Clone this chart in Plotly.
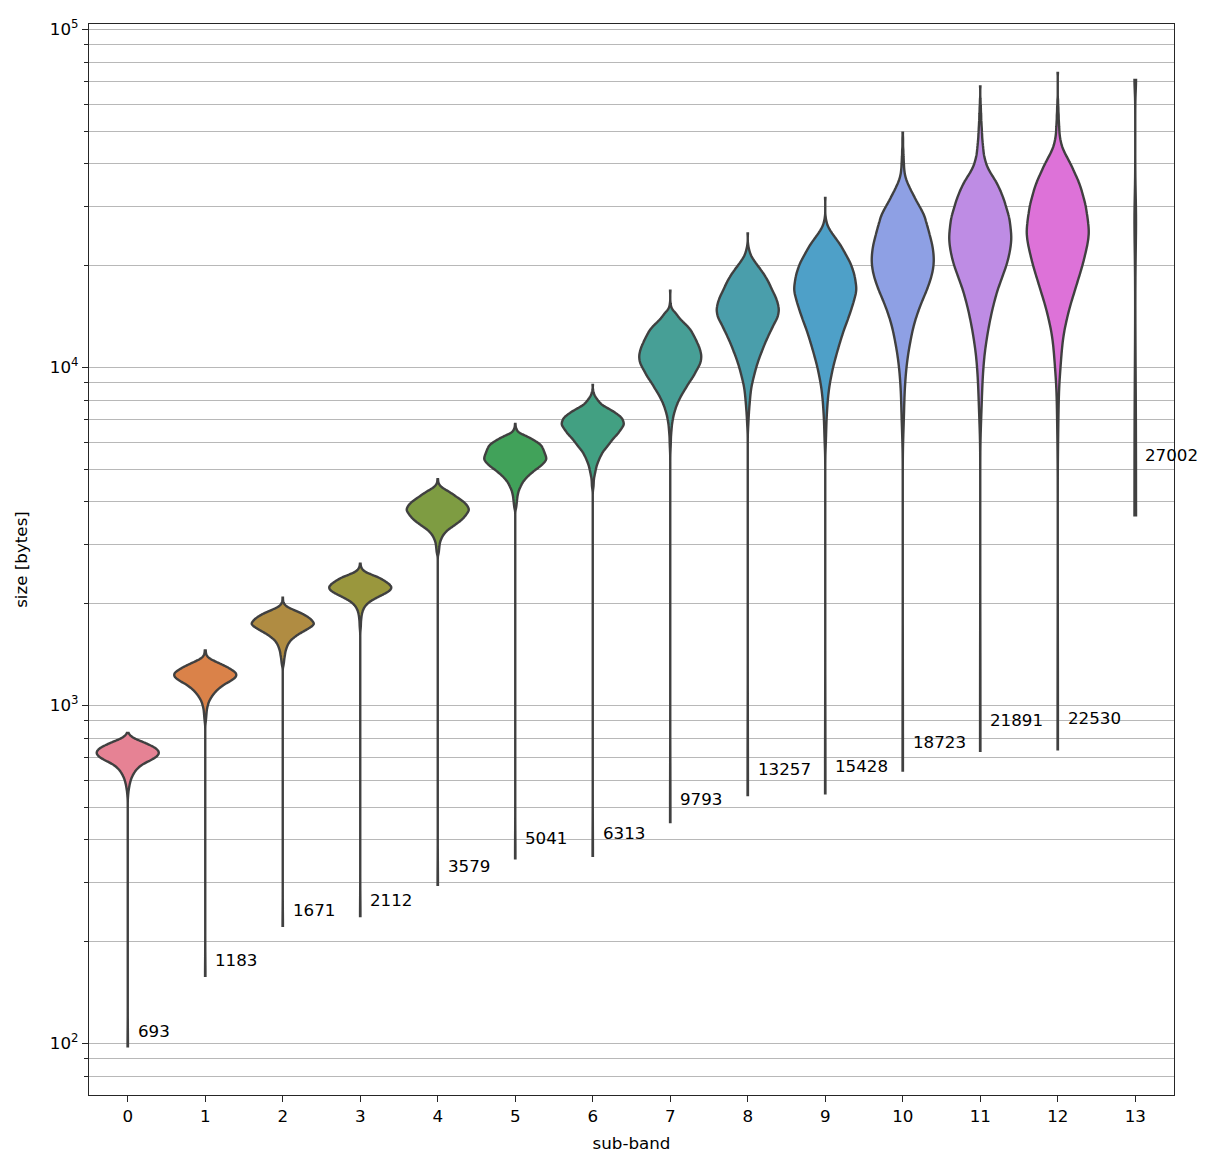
import numpy as np
import plotly.graph_objects as go

# ---------------- data ----------------
SUB_BANDS = list(range(14))

# each band: frame sizes (bytes) and how many frames fall near each size
SIZES_0 = [540, 555, 570, 585, 600, 615, 630, 645, 660, 675, 690, 705, 720, 735, 750, 765, 780, 795, 810, 825]
COUNTS_0 = [1, 2, 4, 6, 9, 13, 19, 26, 37, 52, 74, 90, 98, 96, 85, 67, 47, 24, 10, 2]

SIZES_1 = [900, 925, 950, 975, 1000, 1025, 1050, 1075, 1100, 1125, 1150, 1175, 1200, 1225, 1250, 1275,
           1300, 1325, 1350, 1375, 1400, 1425, 1450]
COUNTS_1 = [2, 3, 4, 5, 8, 11, 17, 24, 33, 44, 57, 75, 92, 99, 97, 83, 68, 50, 31, 13, 5, 2, 1]

SIZES_2 = [1320, 1350, 1380, 1410, 1440, 1470, 1500, 1530, 1560, 1590, 1620, 1650, 1680, 1710, 1740, 1770,
           1800, 1830, 1860, 1890, 1920, 1950, 1980, 2010, 2040]
COUNTS_2 = [3, 4, 5, 7, 8, 11, 14, 19, 25, 36, 47, 62, 77, 90, 100, 95, 88, 78, 65, 50, 33, 16, 7, 3, 1]

SIZES_3 = [1680, 1720, 1760, 1800, 1840, 1880, 1920, 1960, 2000, 2040, 2080, 2120, 2160, 2200, 2240, 2280,
           2320, 2360, 2400, 2440, 2480, 2520, 2560, 2600]
COUNTS_3 = [1, 2, 2, 3, 4, 6, 9, 14, 22, 34, 50, 68, 85, 96, 99, 92, 81, 69, 54, 34, 16, 7, 3, 1]

SIZES_4 = [2820, 2880, 2940, 3000, 3060, 3120, 3180, 3240, 3300, 3360, 3420, 3480, 3540, 3600, 3660, 3720,
           3780, 3840, 3900, 3960, 4020, 4080, 4140, 4200, 4260, 4320, 4380, 4440, 4500, 4560, 4620]
COUNTS_4 = [3, 4, 5, 6, 8, 12, 16, 23, 31, 43, 55, 66, 76, 84, 90, 95, 100, 98, 94, 88, 80, 70, 60, 51, 41,
            30, 19, 10, 5, 2, 1]

SIZES_5 = [3840, 3920, 4000, 4080, 4160, 4240, 4320, 4400, 4480, 4560, 4640, 4720, 4800, 4880, 4960, 5040,
           5120, 5200, 5280, 5360, 5440, 5520, 5600, 5680, 5760, 5840, 5920, 6000, 6080, 6160, 6240, 6320,
           6400, 6480, 6560, 6640, 6720]
COUNTS_5 = [3, 4, 5, 6, 7, 9, 11, 15, 19, 23, 29, 36, 44, 53, 62, 73, 82, 90, 96, 100, 98, 96, 93, 91, 88,
            85, 80, 71, 61, 51, 39, 26, 13, 7, 4, 2, 1]

SIZES_6 = [4400, 4500, 4600, 4700, 4800, 4900, 5000, 5100, 5200, 5300, 5400, 5500, 5600, 5700, 5800, 5900,
           6000, 6100, 6200, 6300, 6400, 6500, 6600, 6700, 6800, 6900, 7000, 7100, 7200, 7300, 7400, 7500,
           7600, 7700, 7800, 7900, 8000, 8100, 8200, 8300, 8400, 8500, 8600]
COUNTS_6 = [2, 3, 3, 4, 6, 8, 10, 12, 15, 19, 22, 27, 31, 37, 44, 50, 56, 62, 68, 76, 82, 87, 92, 97, 100,
            98, 96, 92, 85, 76, 67, 56, 45, 34, 26, 21, 16, 12, 8, 5, 3, 2, 1]

SIZES_7 = [5750, 6000, 6250, 6500, 6750, 7000, 7250, 7500, 7750, 8000, 8250, 8500, 8750, 9000, 9250, 9500,
           9750, 10000, 10250, 10500, 10750, 11000, 11250, 11500, 11750, 12000, 12250, 12500, 12750, 13000,
           13250, 13500, 13750, 14000, 14250, 14500, 14750, 15000, 15250, 15500]
COUNTS_7 = [1, 2, 2, 4, 5, 8, 11, 16, 21, 28, 35, 44, 52, 60, 69, 77, 83, 90, 96, 99, 100, 99, 96, 93, 88,
            84, 79, 74, 69, 63, 55, 46, 37, 29, 23, 17, 9, 4, 2, 1]

SIZES_8 = [6800, 7200, 7600, 8000, 8400, 8800, 9200, 9600, 10000, 10400, 10800, 11200, 11600, 12000, 12400,
           12800, 13200, 13600, 14000, 14400, 14800, 15200, 15600, 16000, 16400, 16800, 17200, 17600, 18000,
           18400, 18800, 19200, 19600, 20000, 20400, 20800, 21200, 21600, 22000, 22400, 22800, 23200]
COUNTS_8 = [2, 3, 5, 7, 9, 12, 17, 22, 27, 33, 39, 46, 52, 59, 66, 73, 80, 87, 95, 98, 100, 98, 95, 91, 86,
            80, 75, 70, 65, 59, 53, 46, 39, 32, 25, 19, 13, 9, 6, 4, 2, 1]

SIZES_9 = [6000, 6500, 7000, 7500, 8000, 8500, 9000, 9500, 10000, 10500, 11000, 11500, 12000, 12500, 13000,
           13500, 14000, 14500, 15000, 15500, 16000, 16500, 17000, 17500, 18000, 18500, 19000, 19500, 20000,
           20500, 21000, 21500, 22000, 22500, 23000, 23500, 24000, 24500, 25000, 25500, 26000, 26500, 27000,
           27500, 28000]
COUNTS_9 = [2, 3, 4, 6, 8, 11, 15, 20, 25, 31, 37, 43, 49, 55, 61, 68, 74, 80, 85, 90, 94, 98, 100, 99, 97,
            95, 92, 88, 84, 79, 73, 67, 61, 55, 49, 42, 35, 28, 21, 15, 10, 6, 4, 2, 1]

SIZES_10 = [6400, 7200, 8000, 8800, 9600, 10400, 11200, 12000, 12800, 13600, 14400, 15200, 16000, 16800,
            17600, 18400, 19200, 20000, 20800, 21600, 22400, 23200, 24000, 24800, 25600, 26400, 27200, 28000,
            28800, 29600, 30400, 31200, 32000, 32800, 33600, 34400, 35200, 36000, 36800, 37600, 38400, 39200,
            40000, 40800, 41600, 42400, 43200, 44000, 44800, 45600, 46400, 47200, 48000]
COUNTS_10 = [2, 4, 5, 7, 10, 14, 19, 25, 31, 38, 47, 56, 66, 76, 84, 91, 96, 99, 100, 99, 97, 94, 90, 86,
             82, 78, 74, 70, 64, 57, 50, 43, 37, 31, 25, 20, 15, 11, 8, 6, 5, 4, 4, 3, 3, 2, 2, 2, 1, 1,
             1, 1, 1]

SIZES_11 = [7000, 8000, 9000, 10000, 11000, 12000, 13000, 14000, 15000, 16000, 17000, 18000, 19000, 20000,
            21000, 22000, 23000, 24000, 25000, 26000, 27000, 28000, 29000, 30000, 31000, 32000, 33000, 34000,
            35000, 36000, 37000, 38000, 39000, 40000, 41000, 42000, 43000, 44000, 45000, 46000, 47000, 48000,
            49000, 50000, 51000, 52000, 53000, 54000, 55000, 56000, 57000, 58000, 59000, 60000, 61000, 62000]
COUNTS_11 = [3, 5, 7, 10, 14, 20, 26, 33, 40, 48, 56, 66, 75, 84, 90, 95, 98, 100, 99, 97, 95, 92, 87, 82,
             78, 72, 67, 60, 54, 46, 38, 30, 24, 19, 16, 13, 11, 10, 9, 8, 7, 6, 6, 5, 5, 4, 4, 3, 3, 3,
             2, 2, 2, 1, 1, 1]

SIZES_12 = [6000, 7000, 8000, 9000, 10000, 11000, 12000, 13000, 14000, 15000, 16000, 17000, 18000, 19000,
            20000, 21000, 22000, 23000, 24000, 25000, 26000, 27000, 28000, 29000, 30000, 31000, 32000, 33000,
            34000, 35000, 36000, 37000, 38000, 39000, 40000, 41000, 42000, 43000, 44000, 45000, 46000, 47000,
            48000, 49000, 50000, 51000, 52000, 53000, 54000, 55000, 56000, 57000, 58000, 59000, 60000, 61000,
            62000]
COUNTS_12 = [1, 2, 3, 5, 9, 12, 16, 22, 30, 38, 47, 56, 64, 72, 79, 85, 90, 95, 98, 100, 99, 97, 95, 92, 90,
             86, 82, 78, 74, 69, 64, 58, 52, 47, 41, 35, 29, 23, 18, 14, 11, 9, 7, 6, 5, 5, 4, 4, 3, 3, 3,
             2, 2, 2, 1, 1, 1]

SIZES_13 = [3650, 27002, 70930]
COUNTS_13 = [1, 1, 1]

# smallest and largest frame of bands 0..12
MIN_SIZE = [98, 158.5, 223, 238, 294.7, 353, 359, 452, 543, 550, 642, 734, 742]
MAX_SIZE = [829, 1455, 2082, 2624, 4667, 6801, 8872, 16870, 24925, 31710, 49440, 67820, 74300]

# kernel bandwidth per band (bytes)
BANDWIDTH = [10, 17, 20, 27, 40, 55, 70, 170, 270, 340, 550, 700, 700, 5000]

# median labels and the size at which they are written
LABELS = [693, 1183, 1671, 2112, 3579, 5041, 6313, 9793, 13257, 15428, 18723, 21891, 22530, 27002]
LABEL_Y = [109, 177, 248, 265, 336, 406, 418, 529, 649, 661, 781, 906, 920, 5510]

Y_MAJOR = [100, 1000, 10000, 100000]
Y_MAJOR_TEXT = ["10<sup>2</sup>", "10<sup>3</sup>", "10<sup>4</sup>", "10<sup>5</sup>"]
Y_MINOR = [80, 90, 200, 300, 400, 500, 600, 700, 800, 900,
           2000, 3000, 4000, 5000, 6000, 7000, 8000, 9000,
           20000, 30000, 40000, 50000, 60000, 70000, 80000, 90000]

# ---------------- styles ----------------
COLORS = ["#e68294", "#da8249", "#b08c42", "#9a973d", "#7e9c42", "#41a25a", "#42a082",
          "#479f96", "#4a9eab", "#4ea0c8", "#8ea0e4", "#be8ce4", "#dd72d8", "#e6829a"]
OUTLINE = "#404040"
GRID = "#b8b8b8"
AXIS = "#262626"
FONT = "DejaVu Sans"
FS = 16.7

SIZES = [SIZES_0, SIZES_1, SIZES_2, SIZES_3, SIZES_4, SIZES_5, SIZES_6, SIZES_7, SIZES_8, SIZES_9,
         SIZES_10, SIZES_11, SIZES_12, SIZES_13]
COUNTS = [COUNTS_0, COUNTS_1, COUNTS_2, COUNTS_3, COUNTS_4, COUNTS_5, COUNTS_6, COUNTS_7, COUNTS_8,
          COUNTS_9, COUNTS_10, COUNTS_11, COUNTS_12, COUNTS_13]

fig = go.Figure()
for b in SUB_BANDS:
    vals = np.repeat(np.array(SIZES[b], dtype=float), COUNTS[b])
    if b < len(MIN_SIZE):
        vals = np.concatenate([[MIN_SIZE[b]], vals, [MAX_SIZE[b]]])
    fig.add_trace(go.Violin(
        x=np.full(len(vals), b), y=vals,
        name=str(b), scalegroup=str(b), scalemode="width",
        width=0.8 if b < 13 else 0.02,
        bandwidth=BANDWIDTH[b], spanmode="hard",
        points=False, box_visible=False, meanline_visible=False,
        fillcolor=COLORS[b], opacity=1,
        line=dict(color=OUTLINE, width=2.4),
        showlegend=False, hoverinfo="skip",
    ))

for b, lab, yv in zip(SUB_BANDS, LABELS, LABEL_Y):
    fig.add_annotation(x=b + 0.1, y=np.log10(yv), text=str(lab), showarrow=False,
                       xanchor="left", yanchor="middle",
                       font=dict(family=FONT, size=FS, color="#000000"))

# the page body adds an 8 px offset; the figure is sized so the plot area lands where the reference has it
fig.update_layout(
    width=1210, height=1160,
    margin=dict(l=81, r=44, t=9, b=73),
    paper_bgcolor="white", plot_bgcolor="white",
    violinmode="overlay", showlegend=False,
    font=dict(family=FONT, size=FS, color="#000000"),
)
fig.update_xaxes(
    range=[-0.5, 13.5], tickmode="array", tickvals=SUB_BANDS,
    ticktext=[str(b) for b in SUB_BANDS],
    ticks="outside", ticklen=6, tickwidth=1.3, tickcolor=AXIS,
    showline=True, mirror=True, linecolor=AXIS, linewidth=1.3,
    showgrid=False, zeroline=False,
    title=dict(text="sub-band", standoff=12, font=dict(family=FONT, size=FS)),
)
fig.update_yaxes(
    type="log", range=[1.8475, 5.016],
    tickmode="array", tickvals=Y_MAJOR, ticktext=Y_MAJOR_TEXT,
    ticks="outside", ticklen=6, tickwidth=1.3, tickcolor=AXIS,
    showline=True, mirror=True, linecolor=AXIS, linewidth=1.3,
    showgrid=True, gridcolor=GRID, gridwidth=1.4, zeroline=False,
    minor=dict(tickmode="array", tickvals=Y_MINOR, ticks="outside", ticklen=3.5, tickwidth=1,
               tickcolor=AXIS, showgrid=True, gridcolor=GRID, gridwidth=1.4),
    title=dict(text="size [bytes]", standoff=17, font=dict(family=FONT, size=FS)),
)

fig.write_html("out.html")
